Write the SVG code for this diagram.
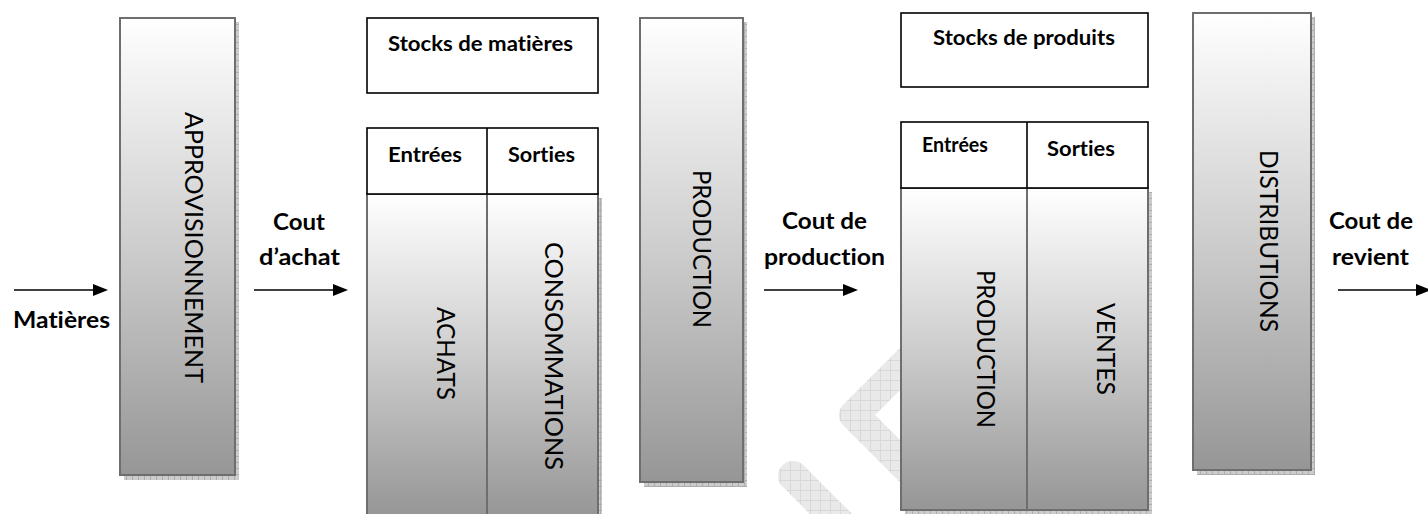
<svg xmlns="http://www.w3.org/2000/svg" width="1428" height="514" viewBox="0 0 1428 514">
<style>
  text { font-variant-ligatures: none; }
  .bold { font-family: Lato, "Liberation Sans", Arial, sans-serif; font-weight: bold; font-size: 23px; fill: #000; }
  .hdr { font-family: Lato, "Liberation Sans", Arial, sans-serif; font-weight: bold; font-size: 20px; fill: #000; }
  .vert { font-family: Lato, "Liberation Sans", Arial, sans-serif; font-weight: 400; font-size: 25px; fill: #000; }
  .gbox { fill: url(#grad); stroke: #6e6e6e; stroke-width: 2; }
  .shadow { fill: url(#check); }
  .wbox { fill: #fff; stroke: #000; stroke-width: 1.6; }
  .conn { stroke: #000; stroke-width: 1.5; fill: none; }
  .wm { fill: none; stroke: url(#hatch); stroke-width: 30; stroke-linecap: round; stroke-linejoin: round; }
</style>
<defs>
  <linearGradient id="grad" x1="0" y1="0" x2="0" y2="1">
    <stop offset="0" stop-color="#ffffff"/>
    <stop offset="0.5" stop-color="#cdcdcd"/>
    <stop offset="1" stop-color="#969696"/>
  </linearGradient>
  <pattern id="check" width="6" height="6" patternUnits="userSpaceOnUse">
    <rect width="6" height="6" fill="#cccccc"/>
    <path d="M0 0.5H6M0.5 0V6" stroke="#adadad" stroke-width="1"/>
  </pattern>
  <pattern id="hatch" width="10" height="10" patternUnits="userSpaceOnUse">
    <rect width="10" height="10" fill="#e9e9e9"/>
    <path d="M0 0.5H10M0.5 0V10" stroke="#d8d8d8" stroke-width="1"/>
  </pattern>
</defs>
<rect width="1428" height="514" fill="#fff"/>

<g id="watermark">
  <path class="wm" d="M950 319L854 415L950 511"/>
  <path class="wm" d="M793 476L860 543"/>
</g>

<g id="connectors">
  <line class="conn" x1="14" y1="290" x2="96" y2="290"/>
  <path d="M93 284L108 290L93 296Z" fill="#000"/>
  <line class="conn" x1="254" y1="290" x2="336" y2="290"/>
  <path d="M333 284L348 290L333 296Z" fill="#000"/>
  <line class="conn" x1="764" y1="290" x2="846" y2="290"/>
  <path d="M843 284L858 290L843 296Z" fill="#000"/>
  <line class="conn" x1="1338" y1="290" x2="1419" y2="290"/>
  <path d="M1416 284L1431 290L1416 296Z" fill="#000"/>
</g>

<g id="label-matieres">
  <text class="bold" x="13" y="328" textLength="97" lengthAdjust="spacingAndGlyphs">Matières</text>
</g>
<g id="label-cout-achat">
  <text class="bold" x="299" y="230" text-anchor="middle" textLength="52" lengthAdjust="spacingAndGlyphs">Cout</text>
  <text class="bold" x="299.5" y="265" text-anchor="middle" textLength="81" lengthAdjust="spacingAndGlyphs">d’achat</text>
</g>
<g id="label-cout-production">
  <text class="bold" x="824.5" y="229" text-anchor="middle" textLength="85" lengthAdjust="spacingAndGlyphs">Cout de</text>
  <text class="bold" x="824.5" y="265" text-anchor="middle" textLength="121" lengthAdjust="spacingAndGlyphs">production</text>
</g>
<g id="label-cout-revient">
  <text class="bold" x="1371" y="229" text-anchor="middle" textLength="84" lengthAdjust="spacingAndGlyphs">Cout de</text>
  <text class="bold" x="1370.5" y="265" text-anchor="middle" textLength="77" lengthAdjust="spacingAndGlyphs">revient</text>
</g>

<g id="approvisionnement">
  <rect class="shadow" x="124" y="22" width="115" height="458"/>
  <rect class="gbox" x="120" y="18" width="115" height="457"/>
  <text class="vert" transform="translate(185,247.5) rotate(90)" text-anchor="middle" textLength="271" lengthAdjust="spacingAndGlyphs">APPROVISIONNEMENT</text>
</g>

<g id="stocks-matieres">
  <rect class="wbox" x="367" y="18" width="231" height="75"/>
  <text class="hdr" x="388" y="51" textLength="185" lengthAdjust="spacingAndGlyphs">Stocks de matières</text>
</g>

<g id="table-matieres">
  <rect class="shadow" x="371" y="198" width="231" height="320"/>
  <rect class="gbox" x="367" y="194" width="231" height="322"/>
  <line x1="487" y1="194" x2="487" y2="516" stroke="#6e6e6e" stroke-width="2"/>
  <rect class="wbox" x="367" y="128" width="231" height="66"/>
  <line x1="487" y1="128" x2="487" y2="194" stroke="#000" stroke-width="1.6"/>
  <text class="hdr" x="388" y="162" textLength="74" lengthAdjust="spacingAndGlyphs">Entrées</text>
  <text class="hdr" x="508" y="162" textLength="67" lengthAdjust="spacingAndGlyphs">Sorties</text>
  <text class="vert" transform="translate(437,353.5) rotate(90)" text-anchor="middle" textLength="93" lengthAdjust="spacingAndGlyphs">ACHATS</text>
  <text class="vert" transform="translate(545,356) rotate(90)" text-anchor="middle" textLength="228" lengthAdjust="spacingAndGlyphs">CONSOMMATIONS</text>
</g>

<g id="production">
  <rect class="shadow" x="644" y="22" width="103" height="465"/>
  <rect class="gbox" x="640" y="18" width="103" height="464"/>
  <text class="vert" transform="translate(693,249) rotate(90)" text-anchor="middle" textLength="158" lengthAdjust="spacingAndGlyphs">PRODUCTION</text>
</g>

<g id="stocks-produits">
  <rect class="wbox" x="901" y="13" width="247" height="74"/>
  <text class="hdr" x="933" y="45" textLength="182" lengthAdjust="spacingAndGlyphs">Stocks de produits</text>
</g>

<g id="table-produits">
  <rect class="shadow" x="905" y="192" width="247" height="322"/>
  <rect class="gbox" x="901" y="188" width="247" height="322"/>
  <line x1="1027" y1="188" x2="1027" y2="510" stroke="#6e6e6e" stroke-width="2"/>
  <rect class="wbox" x="901" y="122" width="247" height="66"/>
  <line x1="1027" y1="122" x2="1027" y2="188" stroke="#000" stroke-width="1.6"/>
  <text class="hdr" x="922" y="152" textLength="66" lengthAdjust="spacingAndGlyphs">Entrées</text>
  <text class="hdr" x="1047" y="156" textLength="68" lengthAdjust="spacingAndGlyphs">Sorties</text>
  <text class="vert" transform="translate(977,349) rotate(90)" text-anchor="middle" textLength="158" lengthAdjust="spacingAndGlyphs">PRODUCTION</text>
  <text class="vert" transform="translate(1097,349) rotate(90)" text-anchor="middle" textLength="92" lengthAdjust="spacingAndGlyphs">VENTES</text>
</g>

<g id="distributions">
  <rect class="shadow" x="1197" y="17" width="118" height="458"/>
  <rect class="gbox" x="1193" y="13" width="118" height="457"/>
  <text class="vert" transform="translate(1260,241) rotate(90)" text-anchor="middle" textLength="182" lengthAdjust="spacingAndGlyphs">DISTRIBUTIONS</text>
</g>
</svg>
